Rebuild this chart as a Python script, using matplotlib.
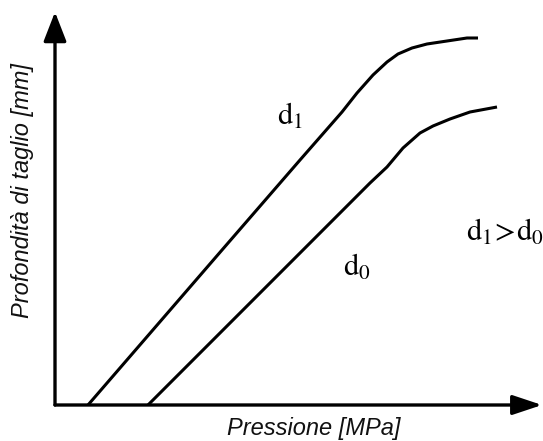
'''
Sketch of cutting depth versus pressure for two nozzle diameters
'''
import matplotlib
matplotlib.use('Agg')
import matplotlib.pyplot as plt

# ---------------------------------
# curve points (arbitrary units, no ticks in the original)
d1_x = [33, 167, 245, 287, 302, 318, 332, 343, 357, 372, 392, 412, 423]
d1_y = [0, 155, 245, 293, 312, 330, 343, 351, 357, 361, 364, 367, 367]

d0_x = [93, 198, 315, 332, 348, 365, 378, 395, 415, 442]
d0_y = [0, 105, 222, 238, 257, 272, 279, 286, 293, 298]

x_max = 487
y_max = 393

label_x = 'Pressione [MPa]'
label_y = 'Profondità di taglio [mm]'
# ---------------------------------
def _initialize() -> None:
    plt.rcParams['mathtext.fontset'] = 'stix'
    plt.rcParams['font.family']      = ['Liberation Sans', 'DejaVu Sans']
# ---------------------------------
def _draw_axes(ax) -> None:
    ax.set_xlim(0, x_max)
    ax.set_ylim(0, y_max)
    ax.axis('off')

    ax.annotate('', xy=(x_max, 0), xytext=(0, 0),
                arrowprops=dict(arrowstyle='-|>,head_length=0.9,head_width=0.3',
                                mutation_scale=20, lw=2.4, color='black',
                                shrinkA=0, shrinkB=0),
                annotation_clip=False)
    ax.annotate('', xy=(0, y_max), xytext=(0, 0),
                arrowprops=dict(arrowstyle='-|>,head_length=0.9,head_width=0.35',
                                mutation_scale=20, lw=2.4, color='black',
                                shrinkA=0, shrinkB=0),
                annotation_clip=False)
# ---------------------------------
def _draw_text(fig, ax) -> None:
    ax.text(235, 288, r'$\mathrm{d}_1$', fontsize=22, ha='center', va='center')
    ax.text(302, 137, r'$\mathrm{d}_0$', fontsize=22, ha='center', va='center')
    ax.text(450, 172, r'$\mathrm{d}_1\!>\!\mathrm{d}_0$', fontsize=22, ha='center', va='center')

    fig.text(314 / 543, 1 - 429 / 441, label_x, fontsize=17, style='italic',
             ha='center', va='center', color='#111111')
    fig.text(23 / 543, 1 - 191 / 441, label_y, fontsize=17, style='italic',
             rotation=90, ha='center', va='center', color='#111111')
# ---------------------------------
def main():
    '''
    start here
    '''
    _initialize()

    fig = plt.figure(figsize=(5.43, 4.41), dpi=100)
    ax  = fig.add_axes([55 / 543, 36 / 441, x_max / 543, y_max / 441])

    _draw_axes(ax)
    ax.plot(d1_x, d1_y, color='black', lw=2.2, solid_capstyle='butt', solid_joinstyle='round')
    ax.plot(d0_x, d0_y, color='black', lw=2.2, solid_capstyle='butt', solid_joinstyle='round')
    _draw_text(fig, ax)

    fig.savefig('out.png', dpi=100)
    plt.close(fig)
# ---------------------------------
if __name__ == '__main__':
    main()
